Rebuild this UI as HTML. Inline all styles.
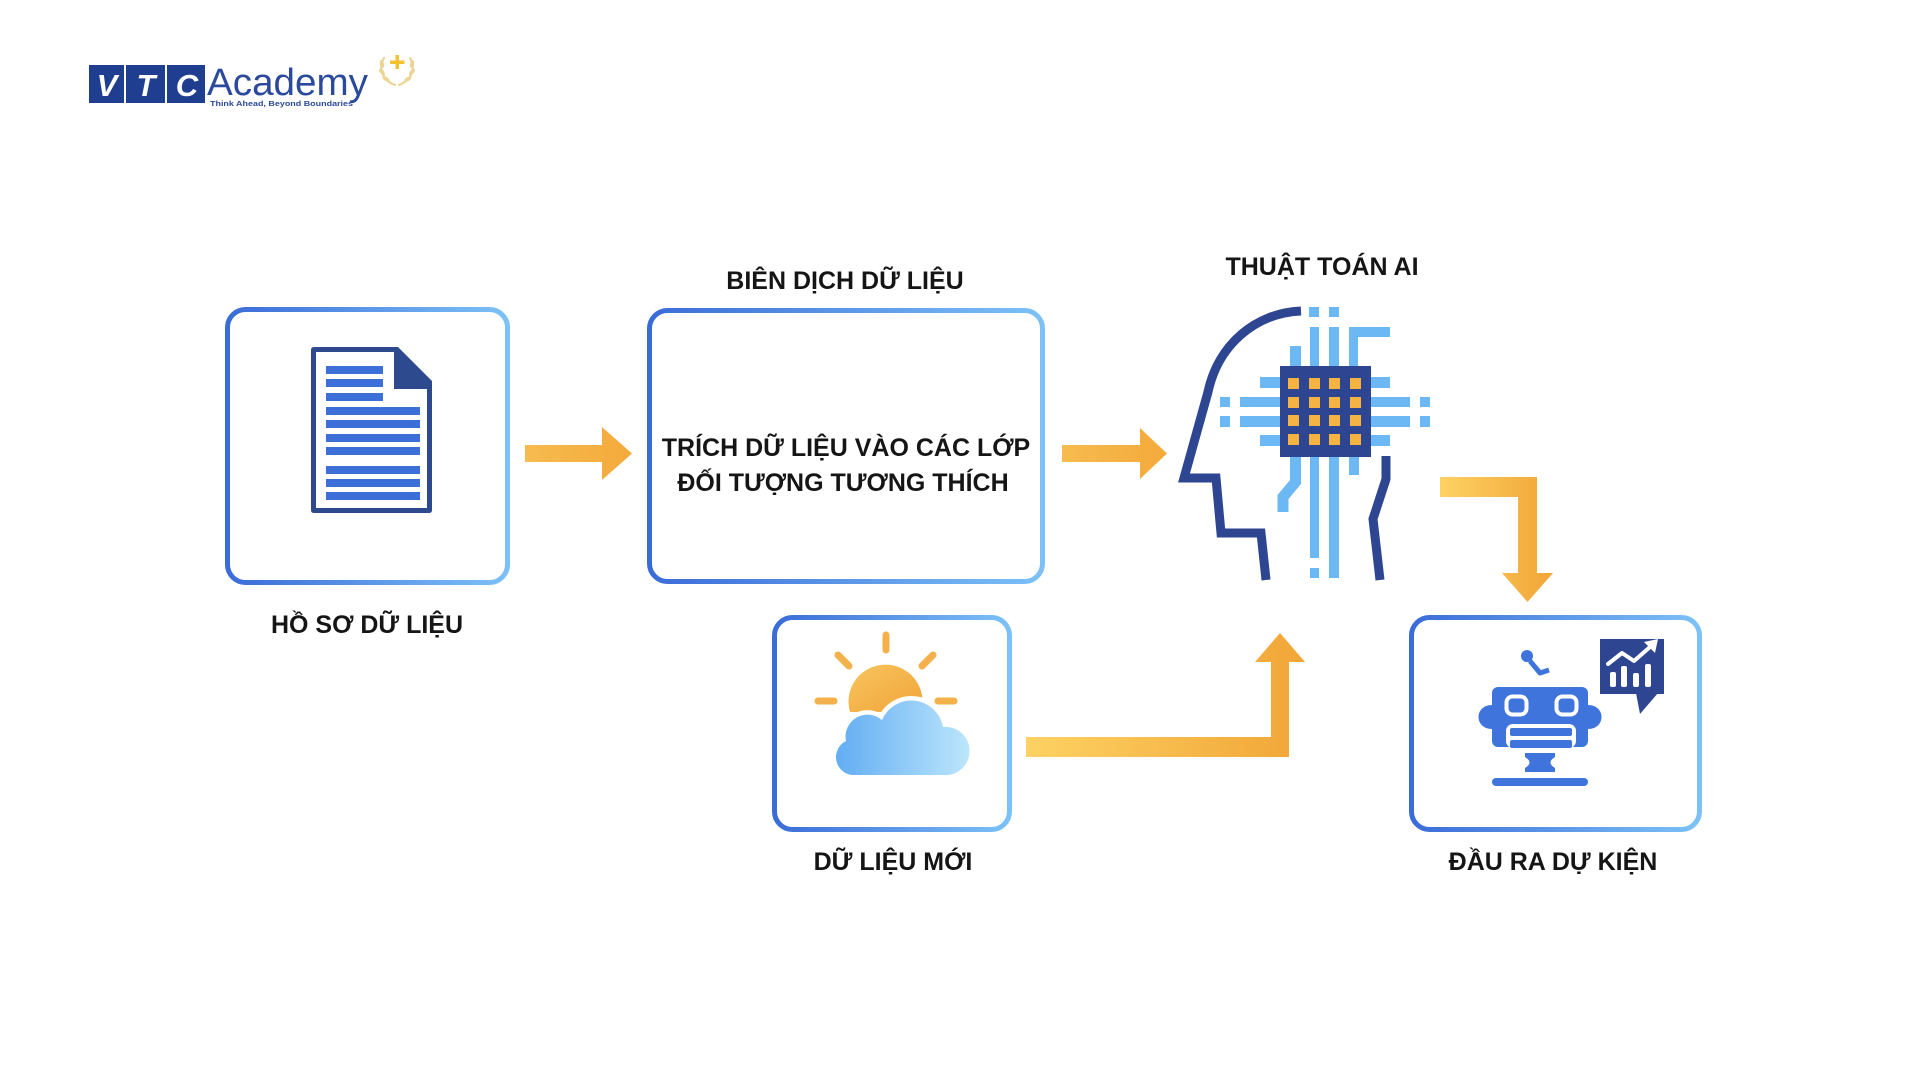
<!DOCTYPE html>
<html>
<head>
<meta charset="utf-8">
<style>
  html,body{margin:0;padding:0;background:#fff;}
  svg{display:block;}
  .lbl{font-family:"Liberation Sans","DejaVu Sans",sans-serif;font-weight:bold;font-size:25px;fill:#151515;}
</style>
</head>
<body>
<svg width="1920" height="1080" viewBox="0 0 1920 1080" xmlns="http://www.w3.org/2000/svg">
  <defs>
    <linearGradient id="bd" x1="0" y1="0" x2="1" y2="0">
      <stop offset="0" stop-color="#3a6cd8"/>
      <stop offset="1" stop-color="#7cc1f7"/>
    </linearGradient>
    <linearGradient id="og1" gradientUnits="userSpaceOnUse" x1="1026" y1="0" x2="1305" y2="0">
      <stop offset="0" stop-color="#fdd263"/>
      <stop offset="1" stop-color="#f1a537"/>
    </linearGradient>
    <linearGradient id="og2" gradientUnits="userSpaceOnUse" x1="1440" y1="0" x2="1553" y2="0">
      <stop offset="0" stop-color="#fdd263"/>
      <stop offset="1" stop-color="#f1a537"/>
    </linearGradient>
    <linearGradient id="oa" x1="0" y1="0" x2="1" y2="0">
      <stop offset="0" stop-color="#f7bb4f"/>
      <stop offset="1" stop-color="#f3aa3b"/>
    </linearGradient>
    <linearGradient id="cl" x1="0" y1="0" x2="1" y2="0">
      <stop offset="0" stop-color="#62adf3"/>
      <stop offset="1" stop-color="#bce6fb"/>
    </linearGradient>
    <linearGradient id="sn" x1="0" y1="0" x2="1" y2="1">
      <stop offset="0" stop-color="#f8c55e"/>
      <stop offset="1" stop-color="#f1a43a"/>
    </linearGradient>
  </defs>

  <!-- ===== LOGO ===== -->
  <rect x="89" y="65" width="35" height="38" fill="#1f3e90"/>
  <rect x="126" y="65" width="39" height="38" fill="#1f3e90"/>
  <rect x="167" y="65" width="38" height="38" fill="#1f3e90"/>
  <text x="107" y="96" text-anchor="middle" font-family="Liberation Sans, sans-serif" font-weight="bold" font-style="italic" font-size="31" fill="#fff">V</text>
  <text x="146" y="96" text-anchor="middle" font-family="Liberation Sans, sans-serif" font-weight="bold" font-style="italic" font-size="31" fill="#fff">T</text>
  <text x="187" y="96" text-anchor="middle" font-family="Liberation Sans, sans-serif" font-weight="bold" font-style="italic" font-size="31" fill="#fff">C</text>
  <text x="207" y="95" font-family="Liberation Sans, sans-serif" font-size="38" fill="#2b4a9b" textLength="161" lengthAdjust="spacingAndGlyphs">Academy</text>
  <text x="210" y="106" font-family="Liberation Sans, sans-serif" font-weight="bold" font-size="7.5" fill="#2b4a9b" textLength="143" lengthAdjust="spacingAndGlyphs">Think Ahead, Beyond Boundaries</text>
  <!-- laurel -->
  <g fill="none" stroke="#ecd494" stroke-width="2.2" stroke-linecap="round">
    <path d="M384,58 C378,68 382,80 395,85"/>
    <path d="M410,58 C416,68 412,80 399,85"/>
  </g>
  <g fill="#ecd494">
    <ellipse cx="382" cy="64" rx="2" ry="4" transform="rotate(-20 382 64)"/>
    <ellipse cx="382" cy="72" rx="2" ry="4" transform="rotate(-40 382 72)"/>
    <ellipse cx="386" cy="79" rx="2" ry="4" transform="rotate(-60 386 79)"/>
    <ellipse cx="412" cy="64" rx="2" ry="4" transform="rotate(20 412 64)"/>
    <ellipse cx="412" cy="72" rx="2" ry="4" transform="rotate(40 412 72)"/>
    <ellipse cx="408" cy="79" rx="2" ry="4" transform="rotate(60 408 79)"/>
  </g>
  <rect x="395.5" y="55" width="3.5" height="14" fill="#f2c232"/>
  <rect x="390" y="60.5" width="14.5" height="3.5" fill="#f2c232"/>

  <!-- ===== BOXES ===== -->
  <rect x="227.5" y="309.5" width="280" height="273" rx="18" fill="none" stroke="url(#bd)" stroke-width="5"/>
  <rect x="649.5" y="310.5" width="393" height="271" rx="18" fill="none" stroke="url(#bd)" stroke-width="5"/>
  <rect x="774.5" y="617.5" width="235" height="212" rx="18" fill="none" stroke="url(#bd)" stroke-width="5"/>
  <rect x="1411.5" y="617.5" width="288" height="212" rx="18" fill="none" stroke="url(#bd)" stroke-width="5"/>

  <!-- ===== DOCUMENT ICON ===== -->
  <path d="M314,347 L398,347 L432,381 L432,510 Q432,513 429,513 L314,513 Q311,513 311,510 L311,350 Q311,347 314,347 Z" fill="#2e4a8f"/>
  <path d="M316,352 L394,352 L394,389 L427,389 L427,508 L316,508 Z" fill="#fff"/>
  <g fill="#3d6fd9">
    <rect x="326" y="366" width="57" height="8"/>
    <rect x="326" y="379" width="57" height="8"/>
    <rect x="326" y="393" width="57" height="8"/>
    <rect x="326" y="407" width="94" height="8"/>
    <rect x="326" y="420" width="94" height="8"/>
    <rect x="326" y="434" width="94" height="8"/>
    <rect x="326" y="447" width="94" height="8"/>
    <rect x="326" y="466" width="94" height="8"/>
    <rect x="326" y="479" width="94" height="8"/>
    <rect x="326" y="492" width="94" height="8"/>
  </g>

  <!-- ===== STRAIGHT ARROWS ===== -->
  <path d="M525,445 L602,445 L602,427 L632,453.5 L602,480 L602,462 L525,462 Z" fill="url(#oa)"/>
  <path d="M1062,445 L1140,445 L1140,428 L1167,453.5 L1140,479 L1140,462 L1062,462 Z" fill="url(#oa)"/>

  <!-- ===== ELBOW ARROWS ===== -->
  <path d="M1440,477 L1537,477 L1537,573 L1553,573 L1527.5,602 L1502,573 L1518,573 L1518,497 L1440,497 Z" fill="url(#og2)"/>
  <path d="M1026,737 L1271,737 L1271,662 L1255,662 L1280,633 L1305,662 L1289,662 L1289,757 L1026,757 Z" fill="url(#og1)"/>

  <!-- ===== AI HEAD ICON ===== -->
  <g fill="none" stroke="#2e4591" stroke-width="9" stroke-linejoin="miter">
    <path d="M1301,311 C1255,313 1218,345 1208,392 L1184,478 L1216,478 L1221,533 L1261,533 L1266,580"/>
    <path d="M1386,456 L1386,479 L1373,519 L1380,580"/>
  </g>
  <g fill="#6cb8f4">
    <rect x="1309" y="307" width="10" height="10"/>
    <rect x="1329" y="307" width="10" height="10"/>
    <rect x="1310" y="327" width="9" height="40"/>
    <rect x="1329" y="327" width="10" height="40"/>
    <rect x="1349" y="327" width="9" height="40"/>
    <rect x="1349" y="327" width="41" height="10"/>
    <rect x="1290" y="346" width="11" height="21"/>
    <rect x="1260" y="377" width="21" height="11"/>
    <rect x="1240" y="397" width="41" height="10"/>
    <rect x="1220" y="397" width="10" height="10"/>
    <rect x="1240" y="416" width="41" height="11"/>
    <rect x="1220" y="416" width="10" height="11"/>
    <rect x="1260" y="435" width="21" height="11"/>
    <rect x="1370" y="377" width="20" height="11"/>
    <rect x="1370" y="397" width="40" height="10"/>
    <rect x="1420" y="397" width="10" height="10"/>
    <rect x="1370" y="416" width="40" height="11"/>
    <rect x="1420" y="416" width="10" height="11"/>
    <rect x="1370" y="435" width="20" height="11"/>
    <rect x="1349" y="456" width="10" height="19"/>
    <rect x="1329" y="456" width="10" height="122"/>
    <rect x="1310" y="456" width="9" height="102"/>
    <rect x="1310" y="568" width="9" height="10"/>
  </g>
  <path d="M1295.5,456 L1295.5,482 L1283,497 L1283,512" fill="none" stroke="#6cb8f4" stroke-width="11" stroke-linejoin="miter"/>
  <rect x="1280" y="366" width="91" height="91" fill="#2e4591"/>
  <g fill="#f5b342">
    <rect x="1288" y="378" width="11" height="11"/><rect x="1309" y="378" width="11" height="11"/><rect x="1329" y="378" width="11" height="11"/><rect x="1350" y="378" width="11" height="11"/>
    <rect x="1288" y="397" width="11" height="11"/><rect x="1309" y="397" width="11" height="11"/><rect x="1329" y="397" width="11" height="11"/><rect x="1350" y="397" width="11" height="11"/>
    <rect x="1288" y="415" width="11" height="11"/><rect x="1309" y="415" width="11" height="11"/><rect x="1329" y="415" width="11" height="11"/><rect x="1350" y="415" width="11" height="11"/>
    <rect x="1288" y="434" width="11" height="11"/><rect x="1309" y="434" width="11" height="11"/><rect x="1329" y="434" width="11" height="11"/><rect x="1350" y="434" width="11" height="11"/>
  </g>

  <!-- ===== SUN + CLOUD ===== -->
  <g stroke="#f4b04a" stroke-width="7" stroke-linecap="round">
    <line x1="886" y1="635" x2="886" y2="650"/>
    <line x1="838" y1="655" x2="849" y2="666"/>
    <line x1="933" y1="655" x2="922" y2="666"/>
    <line x1="818" y1="701" x2="834" y2="701"/>
    <line x1="938" y1="701" x2="954" y2="701"/>
  </g>
  <path d="M850,712 A37 37 0 1 1 921,712 Z" fill="url(#sn)"/>
  <path d="M852,775 A18 18 0 0 1 846,741 A22 22 0 0 1 882,720 A32 32 0 0 1 943,727 A24 24 0 0 1 948,775 Z" fill="#fff" stroke="#fff" stroke-width="9" stroke-linejoin="round"/>
  <path d="M852,775 A18 18 0 0 1 846,741 A22 22 0 0 1 882,720 A32 32 0 0 1 943,727 A24 24 0 0 1 948,775 Z" fill="url(#cl)"/>

  <!-- ===== ROBOT ===== -->
  <g fill="#3e74dc">
    <circle cx="1527" cy="656" r="6"/>
    <rect x="1492" y="687" width="96" height="60" rx="6"/>
    <path d="M1492,705 C1474,705 1474,729 1492,729 Z"/>
    <path d="M1588,705 C1606,705 1606,729 1588,729 Z"/>
    <path d="M1525,753 L1555,753 L1555,757 Q1546,762.5 1555,768 L1555,772 L1525,772 L1525,768 Q1534,762.5 1525,757 Z"/>
    <rect x="1492" y="778" width="96" height="8" rx="4"/>
  </g>
  <polyline points="1530,661 1540,673 1549,670" fill="none" stroke="#3e74dc" stroke-width="5" stroke-linejoin="round"/>
  <rect x="1506.5" y="696.5" width="20" height="18" rx="6" fill="none" stroke="#fff" stroke-width="4"/>
  <rect x="1556.5" y="696.5" width="20" height="18" rx="6" fill="none" stroke="#fff" stroke-width="4"/>
  <rect x="1506" y="724" width="70" height="24" rx="7" fill="#fff"/>
  <rect x="1510" y="728" width="62" height="8" rx="2" fill="#3e74dc"/>
  <rect x="1510" y="740" width="62" height="8" rx="2" fill="#3e74dc"/>
  <!-- chart bubble -->
  <rect x="1600" y="639" width="64" height="55" fill="#2e4591"/>
  <polygon points="1636,693 1658,693 1640,714" fill="#2e4591"/>
  <g fill="#fff">
    <rect x="1610" y="672" width="6" height="15" rx="2"/>
    <rect x="1621" y="666" width="6" height="21" rx="2"/>
    <rect x="1633" y="673" width="6" height="14" rx="2"/>
    <rect x="1645" y="664" width="6" height="23" rx="2"/>
  </g>
  <polyline points="1608,664 1622,653 1634,661 1650,647" fill="none" stroke="#fff" stroke-width="4" stroke-linejoin="round" stroke-linecap="round"/>
  <polygon points="1644,642 1658,639 1655,653" fill="#fff"/>

  <!-- ===== LABELS ===== -->
  <text class="lbl" x="845" y="289" text-anchor="middle">BIÊN DỊCH DỮ LIỆU</text>
  <text class="lbl" x="1322" y="275" text-anchor="middle">THUẬT TOÁN AI</text>
  <text class="lbl" x="846" y="456" text-anchor="middle">TRÍCH DỮ LIỆU VÀO CÁC LỚP</text>
  <text class="lbl" x="843" y="491" text-anchor="middle">ĐỐI TƯỢNG TƯƠNG THÍCH</text>
  <text class="lbl" x="367" y="633" text-anchor="middle">HỒ SƠ DỮ LIỆU</text>
  <text class="lbl" x="893" y="870" text-anchor="middle">DỮ LIỆU MỚI</text>
  <text class="lbl" x="1553" y="870" text-anchor="middle">ĐẦU RA DỰ KIỆN</text>
</svg>
</body>
</html>
